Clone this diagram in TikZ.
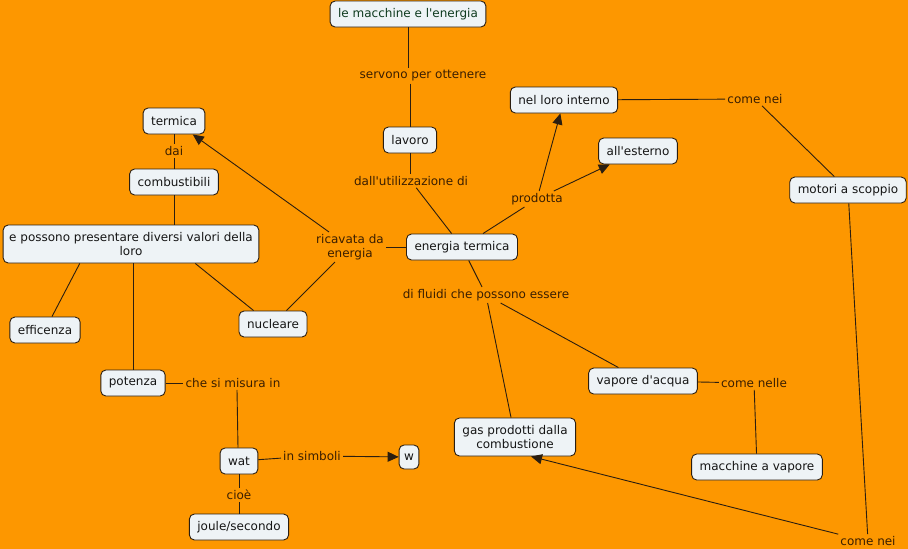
\documentclass[tikz,border=0pt]{standalone}
\usepackage{fontspec}
\setmainfont{DejaVu Sans}
\usetikzlibrary{arrows.meta}
\definecolor{bgor}{HTML}{FD9700}
\definecolor{nfill}{HTML}{EEF3F6}
\definecolor{nline}{HTML}{2B1E10}
\definecolor{ltext}{HTML}{3A1E00}
\definecolor{ntext}{HTML}{151515}
\definecolor{ttext}{HTML}{0E3A1E}
\newcommand{\ap}{\textquotesingle}
\tikzset{
  concept/.style={draw=nline, fill=nfill, rounded corners=5pt, line width=0.9pt,
    inner xsep=8pt, inner ysep=4pt, minimum height=26pt, text=ntext,
    font=\fontsize{12}{14}\selectfont, align=center},
  link/.style={inner sep=2pt, text=ltext, font=\fontsize{12}{14}\selectfont, align=center},
  conn/.style={draw=nline, line width=0.9pt},
  arr/.style={conn, -{Triangle[length=11pt,width=10pt]}}
}
\begin{document}
\begin{tikzpicture}[x=1pt,y=-1pt]
\fill[bgor] (0,0) rectangle (908,549);
\useasboundingbox (0,0) rectangle (908,549);
% concepts
\node[concept, text=ttext] (top) at (408,14) {le macchine e l\ap energia};
\node[concept] (lav) at (410,140) {lavoro};
\node[concept] (et) at (462,247) {energia termica};
\node[concept] (nli) at (564,100) {nel loro interno};
\node[concept] (est) at (638,151) {all\ap esterno};
\node[concept] (mot) at (848,190) {motori a scoppio};
\node[concept] (ter) at (174,121) {termica};
\node[concept] (comb) at (174,182) {combustibili};
\node[concept, minimum height=38pt, inner ysep=2pt, inner xsep=6pt] (pos) at (131,244) {e possono presentare diversi valori della\\loro};
\node[concept] (eff) at (45,330) {efficenza};
\node[concept] (nuc) at (273,324) {nucleare};
\node[concept] (pot) at (133,383) {potenza};
\node[concept] (wat) at (239,461) {wat};
\node[concept, inner xsep=5pt, minimum height=24pt] (w) at (409,457) {w};
\node[concept] (jou) at (239,527) {joule/secondo};
\node[concept] (vap) at (643,381) {vapore d\ap acqua};
\node[concept] (mav) at (757,467) {macchine a vapore};
\node[concept, minimum height=38pt, inner ysep=2pt] (gas) at (515,437) {gas prodotti dalla\\combustione};
% linking phrases
\node[link] (l1) at (423,76) {servono per ottenere};
\node[link] (l2) at (411,181) {dall\ap utilizzazione di};
\node[link] (l3) at (537,199) {prodotta};
\node[link] (l4) at (755,99) {come nei};
\node[link] (l5) at (868,541) {come nei};
\node[link] (l6) at (350,247) {ricavata da\\energia};
\node[link] (l7) at (174,151) {dai};
\node[link] (l8) at (233,383) {che si misura in};
\node[link] (l9) at (312,456) {in simboli};
\node[link] (l10) at (239,495) {cioè};
\node[link] (l11) at (486,295) {di fluidi che possono essere};
\node[link] (l12) at (754,383) {come nelle};
% connectors
\draw[conn] (top.south) -- (top.south |- l1.north);
\draw[conn] (l1.south -| lav) -- (lav.north);
\draw[conn] (lav.south) -- (lav.south |- l2.north);
\draw[conn] (l2) -- (et);
\draw[conn] (et) -- (l3);
\draw[arr] (l3) -- (nli);
\draw[arr] (l3) -- (est);
\draw[conn] (nli) -- (l4);
\draw[conn] (l4) -- (mot);
\draw[conn] (mot) -- (l5);
\draw[arr] (l5.north west) -- ([xshift=16pt]gas.south);
\draw[conn] (et) -- (l6);
\draw[arr] (l6) -- (ter);
\draw[conn] (l6) -- (nuc);
\draw[conn] (ter) -- (l7);
\draw[conn] (l7) -- (comb);
\draw[conn] (comb.south) -- (comb.south |- pos.north);
\draw[conn] ([xshift=77pt]pos.south west) -- ([xshift=7pt]eff.north);
\draw[conn] (pot.north |- pos.south) -- (pot.north);
\draw[conn] ([xshift=-64pt]pos.south east) -- ([xshift=15pt]nuc.north west);
\draw[conn] (pot) -- (l8);
\draw[conn] ([xshift=4pt]l8.south) -- ([xshift=-1pt]wat.north);
\draw[conn] (wat) -- (l9);
\draw[arr] (l9) -- (w);
\draw[conn] (wat) -- (l10);
\draw[conn] (l10) -- (jou);
\draw[conn] (et) -- (l11);
\draw[conn] (l11) -- (vap);
\draw[conn] (l11) -- (gas);
\draw[conn] (vap) -- (l12);
\draw[conn] (l12) -- (mav);
\end{tikzpicture}
\end{document}
